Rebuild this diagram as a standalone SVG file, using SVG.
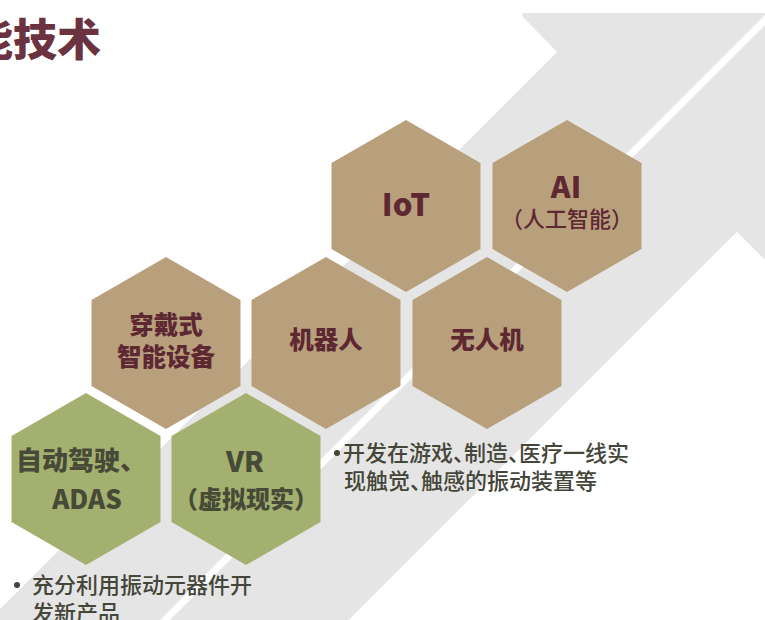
<svg xmlns="http://www.w3.org/2000/svg" xmlns:xlink="http://www.w3.org/1999/xlink" width="765" height="620" viewBox="0 0 765 620">
<style>
.bg{fill:#e5e5e5;stroke:#e5e5e5;stroke-width:4;stroke-linejoin:round}
.tan{fill:#b9a07c}
.grn{fill:#a4b070}
.t{font-family:"Noto Sans CJK SC","Noto Sans",sans-serif;text-anchor:middle}
.m{fill:#5e2833;font-weight:900}
.g{fill:#474a36;font-weight:900}
.b{font-family:"Noto Sans CJK SC","Noto Sans",sans-serif;fill:#45463a;font-size:22px;font-weight:500}
</style>
<defs>
<polygon id="hex" points="0,-86 74.5,-43 74.5,43 0,86 -74.5,43 -74.5,-43"/>
</defs>
<g id="background">
<polygon class="bg" points="524,15 820,15 820,312 737,229 336,630 -18,630 560,52"/>
<line x1="800" y1="-15" x2="150" y2="635" stroke="#ffffff" stroke-width="7"/>
</g>
<text x="-31" y="56" font-family="Noto Sans CJK SC, sans-serif" font-weight="900" font-size="44" fill="#6b323f">能技术</text>
<g id="iot"><use xlink:href="#hex" class="tan" x="406" y="206"/><text class="t m" x="406" y="216" font-size="31">IoT</text></g>
<g id="ai"><use xlink:href="#hex" class="tan" x="567" y="206"/><text class="t m" x="566" y="198" font-size="30">AI</text><text class="t" x="567" y="227" font-size="22" font-weight="500" fill="#5e2833">（人工智能）</text></g>
<g id="wearable"><use xlink:href="#hex" class="tan" x="166" y="343"/><text class="t m" x="166" y="334" font-size="24.5">穿戴式</text><text class="t m" x="166" y="366" font-size="24.5">智能设备</text></g>
<g id="robot"><use xlink:href="#hex" class="tan" x="326" y="343"/><text class="t m" x="326" y="349" font-size="24.5">机器人</text></g>
<g id="drone"><use xlink:href="#hex" class="tan" x="487" y="343"/><text class="t m" x="487" y="349" font-size="24.5">无人机</text></g>
<g id="adas"><use xlink:href="#hex" class="grn" x="86" y="479"/><text class="g" font-family="Noto Sans CJK SC, sans-serif" x="16" y="470" font-size="26">自动驾驶、</text><text class="t g" x="87" y="509" font-size="26">ADAS</text></g>
<g id="vr"><use xlink:href="#hex" class="grn" x="246" y="479"/><text class="t g" x="245" y="472" font-size="28">VR</text><text class="t g" x="246" y="508" font-size="24">（虚拟现实）</text></g>
<g id="notes">
<circle cx="337" cy="453" r="3" fill="#45463a"/>
<text class="b" x="343" y="461">开发在游戏、<tspan dx="-11">制造、</tspan><tspan dx="-11">医疗一线实</tspan></text>
<text class="b" x="344" y="489">现触觉、<tspan dx="-11">触感的振动装置等</tspan></text>
<circle cx="17" cy="585" r="3" fill="#45463a"/>
<text class="b" x="32" y="593">充分利用振动元器件开</text>
<text class="b" x="32" y="621">发新产品</text>
</g>
</svg>
